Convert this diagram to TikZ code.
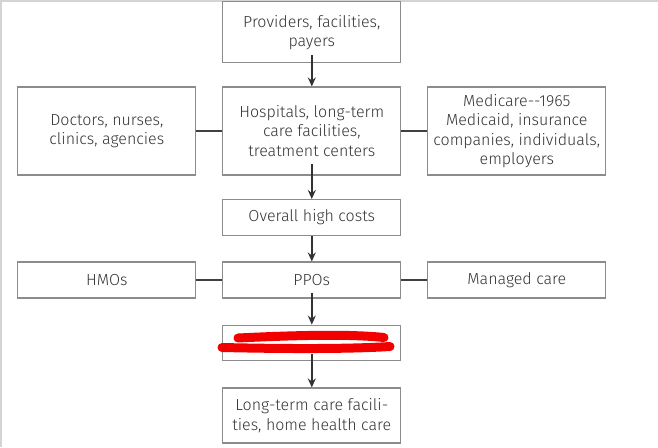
\documentclass[tikz,border=0pt]{standalone}
\usepackage{fontspec}
\setmainfont{Fira Sans Light}
\usetikzlibrary{arrows.meta}
\definecolor{boxgray}{HTML}{8C8C8C}
\definecolor{textgray}{HTML}{333333}
\definecolor{edgegray}{HTML}{D4D4D4}
\definecolor{scribble}{HTML}{F20000}
\begin{document}
\begin{tikzpicture}[x=1pt,y=-1pt,font=\fontsize{16}{19.5}\selectfont]
      \tikzstyle{stagebox}=[draw=boxgray, line width=1.1pt, text=textgray, align=center, minimum width=178pt, inner sep=0pt]
      \tikzstyle{flow}=[draw=black!80, line width=1.4pt, -{Stealth[length=9pt,width=8pt,inset=3pt]}]
      \tikzstyle{link}=[draw=black!75, line width=1.4pt]
      \useasboundingbox (0,0) rectangle (658,447);
      \draw[edgegray, line width=1.5pt] (0.75,447) -- (0.75,0.75) -- (658,0.75);
      % centre column
      \node[stagebox, minimum height=61pt] (providers) at (311.8,32.4) {Providers, facilities,\\payers};
      \node[stagebox, minimum height=88pt] (hospitals) at (311.8,131) {Hospitals, long-term\\care facilities,\\treatment centers};
      \node[stagebox, minimum height=35.5pt] (costs) at (311.8,217.3) {Overall high costs};
      \node[stagebox, minimum height=36pt] (ppos) at (311.8,280) {PPOs};
      \node[stagebox, minimum height=35.7pt] (hidden) at (311.8,343) {};
      \node[stagebox, minimum height=55pt] (longterm) at (311.8,415.5) {Long-term care facili-\\ties, home health care};
      % side boxes
      \node[stagebox, minimum height=88pt] (doctors) at (106.8,131) {Doctors, nurses,\\clinics, agencies};
      \node[stagebox, minimum height=88pt] (medicare) at (516.8,131) {Medicare-{}-1965\\Medicaid, insurance\\companies, individuals,\\employers};
      \node[stagebox, minimum height=36pt] (hmos) at (106.8,280) {HMOs};
      \node[stagebox, minimum height=36pt] (managed) at (516.8,280) {Managed care};
      % connectors
      \draw[flow] ([yshift=8pt]providers.south) -- (hospitals.north);
      \draw[flow] ([yshift=12pt]hospitals.south) -- (costs.north);
      \draw[flow] (costs.south) -- (ppos.north);
      \draw[flow] ([yshift=6pt]ppos.south) -- (hidden.north);
      \draw[flow] ([yshift=7pt]hidden.south) -- (longterm.north);
      \draw[link] (doctors.east) -- (hospitals.west);
      \draw[link] (hospitals.east) -- (medicare.west);
      \draw[link] (hmos.east) -- (ppos.west);
      \draw[link] (ppos.east) -- (managed.west);
      % red scribble over the hidden label
      \draw[scribble, line width=9pt, line cap=round] (238,338) .. controls (300,335) and (350,334) .. (384,337.5);
      \draw[scribble, line width=9pt, line cap=round] (222,347.5) .. controls (290,349) and (350,349) .. (390,346.5);
\end{tikzpicture}
\end{document}
